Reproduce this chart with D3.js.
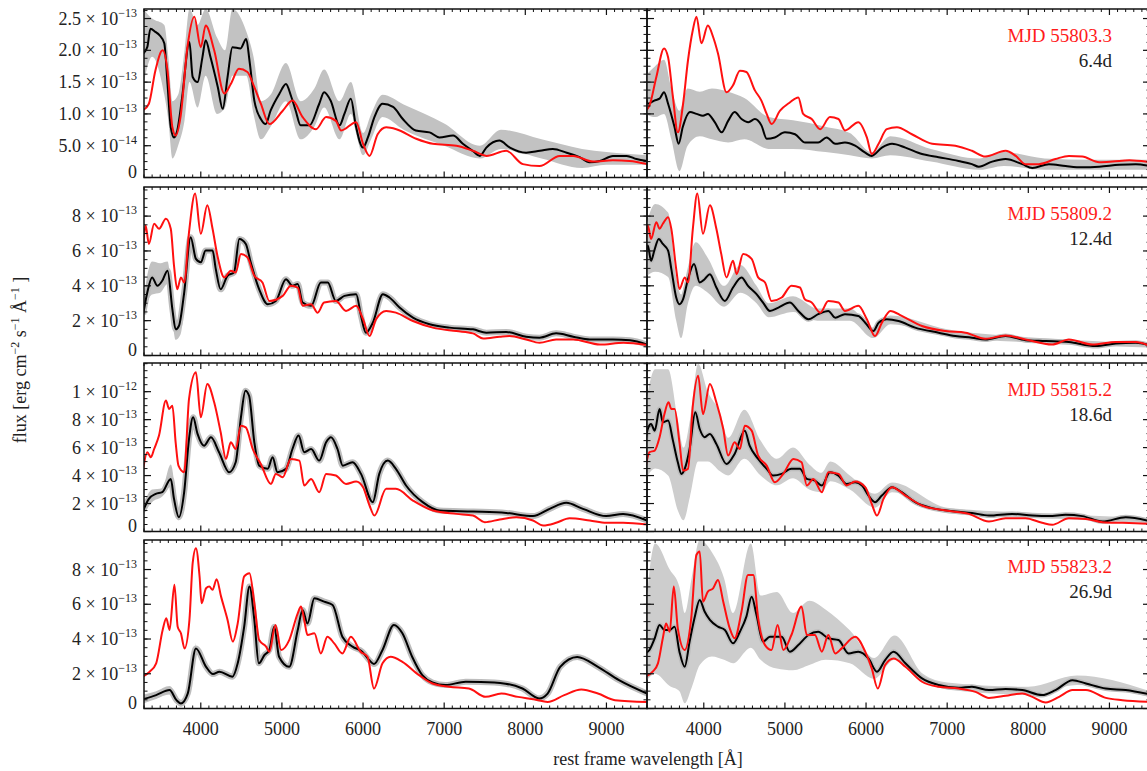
<!DOCTYPE html>
<html><head><meta charset="utf-8">
<script src="https://cdn.jsdelivr.net/npm/d3@7"></script>
<style>
body{margin:0;background:#fff;}
svg{display:block;font-family:"Liberation Serif","Times New Roman",serif;}
</style></head><body>
<svg id="chart" width="1147" height="771"></svg>
<script>
// ---------- DATA (flux in units of 1e-13 erg cm^-2 s^-1 A^-1, wavelength in A) ----------
const UNIT = 1e-13;
const xTicks = [4000, 5000, 6000, 7000, 8000, 9000];
const xTickLabels = ["4000", "5000", "6000", "7000", "8000", "9000"];
const mjdLabels = ["MJD 55803.3", "MJD 55809.2", "MJD 55815.2", "MJD 55823.2"];
const epochLabels = ["6.4d", "12.4d", "18.6d", "26.9d"];
const rowYMax = [2.65, 9.67, 12.05, 9.7];
const yTicksRow1 = [0, 0.5, 1.0, 1.5, 2.0, 2.5];
const yLabelsRow1 = [["0",""],["5.0","\u221214"],["1.0","\u221213"],["1.5","\u221213"],["2.0","\u221213"],["2.5","\u221213"]];
const yTicksRow2 = [0, 2, 4, 6, 8];
const yLabelsRow2 = [["0",""],["2","\u221213"],["4","\u221213"],["6","\u221213"],["8","\u221213"]];
const yTicksRow3 = [0, 2, 4, 6, 8, 10];
const yLabelsRow3 = [["0",""],["2","\u221213"],["4","\u221213"],["6","\u221213"],["8","\u221213"],["1","\u221212"]];
const yTicksRow4 = [0, 2, 4, 6, 8];
const yLabelsRow4 = [["0",""],["2","\u221213"],["4","\u221213"],["6","\u221213"],["8","\u221213"]];
const yMinorStep = [0.125, 0.5, 0.5, 0.5];

// Row 1, left
const blackA1 = [[3290,1.95],[3340,2.05],[3380,2.34],[3440,2.29],[3490,2.24],[3550,2.11],[3590,1.47],[3630,0.79],[3670,0.63],[3710,0.74],[3770,1.26],[3860,2.13],[3900,1.58],[3960,1.50],[4020,1.89],[4060,2.16],[4120,1.89],[4210,1.42],[4270,1.08],[4330,1.58],[4390,2.05],[4490,2.03],[4560,2.18],[4600,1.84],[4660,1.21],[4740,0.92],[4800,0.84],[4860,1.05],[4970,1.32],[5050,1.47],[5110,1.29],[5170,1.05],[5230,0.82],[5340,0.82],[5460,1.16],[5520,1.34],[5600,1.21],[5710,0.82],[5770,1.0],[5850,1.24],[5910,0.82],[6000,0.47],[6060,0.63],[6140,0.95],[6240,1.16],[6370,1.11],[6490,0.92],[6650,0.74],[6820,0.71],[6940,0.63],[7110,0.66],[7230,0.53],[7350,0.42],[7440,0.34],[7520,0.47],[7680,0.58],[7810,0.47],[8010,0.39],[8180,0.42],[8340,0.45],[8510,0.39],[8670,0.32],[8790,0.24],[8920,0.26],[9080,0.34],[9250,0.34],[9370,0.29],[9500,0.26]];
const redA1 = [[3290,1.06],[3360,1.16],[3440,1.68],[3530,2.0],[3590,1.68],[3650,0.79],[3690,0.66],[3750,0.95],[3835,2.05],[3920,2.53],[4000,2.05],[4060,2.39],[4165,2.0],[4290,1.32],[4370,1.47],[4470,1.71],[4575,1.66],[4660,1.42],[4740,1.16],[4845,0.84],[5010,1.05],[5130,1.21],[5255,0.95],[5420,0.76],[5545,0.95],[5665,0.89],[5730,0.74],[5915,0.87],[6000,0.53],[6080,0.34],[6180,0.68],[6285,0.79],[6410,0.76],[6655,0.61],[6860,0.53],[7150,0.5],[7355,0.42],[7520,0.34],[7765,0.42],[7970,0.21],[8175,0.18],[8425,0.34],[8590,0.34],[8835,0.25],[9080,0.27],[9285,0.26],[9500,0.21]];
const bandA1 = [[3290,1.45,2.65],[3400,1.9,2.5],[3550,1.3,2.4],[3600,0.9,1.9],[3650,0.3,1.2],[3720,0.5,1.3],[3800,0.9,2.0],[3860,1.5,2.65],[3960,1.1,2.4],[4060,1.6,2.65],[4200,1.0,2.2],[4300,1.1,2.0],[4390,1.6,2.65],[4560,1.6,2.3],[4650,1.0,1.9],[4740,0.6,1.2],[4860,0.8,1.3],[5050,1.2,1.8],[5230,0.6,1.2],[5400,0.8,1.4],[5520,1.1,1.7],[5710,0.6,1.2],[5850,1.0,1.5],[6000,0.35,0.7],[6100,0.6,1.0],[6240,0.95,1.3],[6500,0.75,1.15],[7000,0.5,0.85],[7440,0.3,0.5],[7700,0.45,0.75],[8200,0.3,0.6],[8700,0.15,0.45],[9000,0.2,0.4],[9500,0.2,0.35]];

// Row 1, right
const blackB1 = [[3280,1.37],[3310,1.16],[3390,1.21],[3455,1.24],[3510,1.34],[3560,1.16],[3640,0.79],[3690,0.53],[3740,0.79],[3830,1.03],[3910,1.0],[3990,0.97],[4050,1.0],[4135,0.87],[4220,0.71],[4300,0.89],[4380,1.03],[4465,0.92],[4550,0.87],[4630,0.92],[4710,0.82],[4775,0.61],[4875,0.63],[5000,0.71],[5125,0.68],[5250,0.55],[5410,0.55],[5515,0.63],[5620,0.53],[5740,0.55],[5865,0.5],[5990,0.39],[6070,0.34],[6195,0.47],[6320,0.53],[6485,0.47],[6690,0.37],[6895,0.32],[7140,0.26],[7305,0.21],[7390,0.17],[7555,0.25],[7720,0.29],[7925,0.21],[8050,0.15],[8255,0.21],[8460,0.18],[8665,0.16],[8875,0.17],[9120,0.2],[9325,0.21],[9500,0.18]];
const redB1 = [[3280,1.05],[3330,1.13],[3415,1.58],[3510,2.03],[3560,1.89],[3620,1.26],[3680,0.71],[3745,1.16],[3805,1.84],[3865,2.32],[3910,2.53],[3970,2.11],[4050,2.39],[4115,2.21],[4175,1.95],[4280,1.34],[4360,1.45],[4445,1.68],[4525,1.66],[4630,1.37],[4710,1.21],[4775,1.0],[4835,0.84],[4940,1.05],[5060,1.18],[5165,1.26],[5225,1.0],[5330,0.92],[5435,0.76],[5555,0.95],[5660,0.92],[5740,0.74],[5905,0.87],[6010,0.63],[6070,0.37],[6155,0.53],[6255,0.76],[6380,0.79],[6565,0.68],[6815,0.53],[7100,0.5],[7305,0.42],[7470,0.33],[7720,0.42],[7845,0.34],[7965,0.21],[8130,0.21],[8335,0.29],[8500,0.34],[8665,0.33],[8875,0.24],[9040,0.25],[9245,0.27],[9500,0.24]];
const bandB1 = [[3280,1.0,1.6],[3400,0.95,1.75],[3510,1.0,1.85],[3600,0.6,1.4],[3700,0.1,1.05],[3800,0.5,1.4],[3950,0.65,1.35],[4100,0.6,1.4],[4300,0.55,1.35],[4500,0.6,1.25],[4800,0.45,0.95],[5100,0.45,0.9],[5500,0.4,0.8],[5800,0.35,0.7],[6070,0.3,0.4],[6300,0.35,0.65],[6800,0.25,0.45],[7400,0.12,0.3],[7700,0.18,0.4],[8200,0.12,0.3],[8800,0.12,0.28],[9500,0.12,0.28]];

// Row 2, left
const blackA2 = [[3290,2.37],[3340,3.6],[3400,4.48],[3465,4.0],[3525,4.29],[3590,4.87],[3650,2.65],[3690,1.5],[3730,1.69],[3795,3.6],[3875,6.79],[3940,5.54],[4000,5.35],[4060,6.02],[4145,6.02],[4185,4.96],[4245,3.8],[4330,4.58],[4410,4.77],[4475,6.69],[4555,6.4],[4615,5.35],[4720,3.8],[4825,2.94],[4925,3.13],[5050,4.38],[5130,4.0],[5195,4.1],[5255,3.04],[5360,2.85],[5480,4.19],[5565,4.19],[5665,3.13],[5770,3.42],[5915,3.52],[5975,2.27],[6035,1.31],[6120,1.88],[6245,3.52],[6325,3.33],[6450,2.75],[6615,2.17],[6820,1.79],[7065,1.6],[7355,1.5],[7520,1.31],[7765,1.35],[8010,1.08],[8175,1.02],[8380,1.27],[8590,1.08],[8795,0.92],[9080,0.92],[9290,0.87],[9500,0.63]];
const redA2 = [[3290,6.31],[3320,7.46],[3360,6.4],[3425,7.56],[3485,7.27],[3570,7.85],[3630,7.27],[3670,5.15],[3710,3.8],[3755,4.48],[3795,4.19],[3855,7.08],[3930,9.29],[4000,6.98],[4080,8.62],[4145,7.27],[4205,5.73],[4290,4.48],[4370,4.87],[4430,4.77],[4495,5.83],[4575,5.63],[4660,4.58],[4760,4.19],[4845,3.13],[5010,3.42],[5110,4.0],[5195,3.9],[5255,2.85],[5360,2.94],[5440,2.46],[5520,3.04],[5665,3.13],[5790,2.56],[5915,2.85],[6000,2.08],[6080,1.12],[6160,2.08],[6285,2.56],[6405,2.46],[6615,1.98],[6860,1.6],[7150,1.4],[7355,1.27],[7480,0.98],[7685,1.08],[7805,1.12],[8010,0.92],[8175,0.73],[8380,0.92],[8590,0.92],[8920,0.63],[9210,0.73],[9500,0.6]];
const bandA2 = [[3290,1.9,2.9],[3340,3.0,4.6],[3400,3.5,5.4],[3500,3.6,5.3],[3590,4.1,5.4],[3650,2.0,3.3],[3690,0.9,2.0],[3750,1.2,2.4],[3800,3.0,4.0]];

// Row 2, right
const blackB2 = [[3280,5.54],[3310,6.31],[3350,5.44],[3390,6.02],[3445,6.69],[3495,6.4],[3560,6.02],[3600,4.96],[3660,3.33],[3700,2.94],[3745,3.23],[3805,4.38],[3880,5.25],[3950,4.19],[4010,4.38],[4075,4.67],[4155,3.9],[4260,3.13],[4360,3.9],[4465,4.48],[4545,4.0],[4650,3.52],[4730,3.04],[4815,2.56],[4920,2.75],[5060,3.04],[5165,2.56],[5290,2.08],[5410,2.37],[5535,2.56],[5620,2.17],[5740,2.37],[5905,2.27],[5990,1.88],[6090,1.4],[6155,1.88],[6255,2.08],[6400,1.98],[6605,1.6],[6895,1.31],[7100,1.12],[7305,1.02],[7470,0.92],[7720,1.12],[7965,0.88],[8215,0.83],[8500,0.77],[8830,0.54],[9080,0.69],[9325,0.73],[9500,0.58]];
const redB2 = [[3280,6.31],[3310,7.46],[3350,6.69],[3415,7.65],[3455,7.27],[3495,7.56],[3560,7.94],[3600,7.27],[3660,4.96],[3700,3.81],[3765,4.48],[3805,4.19],[3865,7.27],[3920,9.29],[3990,6.98],[4075,8.62],[4155,7.27],[4215,5.83],[4280,4.48],[4360,5.44],[4405,4.67],[4485,5.83],[4590,5.54],[4670,4.48],[4755,4.19],[4835,3.13],[4960,3.33],[5080,4.0],[5185,3.9],[5245,3.23],[5330,3.04],[5435,2.46],[5535,3.13],[5660,3.04],[5740,2.56],[5905,2.85],[6010,2.08],[6110,1.12],[6195,1.88],[6300,2.56],[6440,2.27],[6690,1.69],[6980,1.4],[7225,1.31],[7470,0.96],[7720,1.15],[7965,0.92],[8295,0.63],[8500,0.92],[8790,0.63],[9080,0.77],[9325,0.77],[9500,0.54]];
const bandB2 = [[3280,4.5,7.3],[3400,4.8,8.7],[3560,4.5,8.2],[3660,2.0,4.5],[3720,1.0,3.5],[3800,2.9,5.0],[3900,4.0,6.5],[4050,3.6,5.6],[4250,2.8,4.0],[4450,3.6,5.2],[4650,3.0,4.0],[4800,2.2,3.0],[5100,2.5,3.4],[5400,2.0,2.7],[5800,2.0,2.7],[6090,1.0,1.6],[6300,1.8,2.3],[7000,1.1,1.5],[8000,0.75,1.05],[9500,0.45,0.7]];

// Row 3, left
const blackA3 = [[3290,1.5],[3360,2.33],[3445,2.69],[3525,2.81],[3630,3.76],[3670,2.33],[3730,1.02],[3795,2.81],[3855,6.62],[3905,8.17],[3960,6.98],[4040,6.14],[4125,6.74],[4225,5.67],[4350,4.24],[4430,4.95],[4495,8.17],[4550,10.07],[4595,9.71],[4660,6.38],[4720,4.71],[4825,4.48],[4885,5.31],[4945,4.24],[5050,4.48],[5130,5.9],[5205,6.86],[5275,5.67],[5360,5.9],[5460,5.07],[5545,6.38],[5605,6.74],[5685,5.9],[5750,4.71],[5870,4.95],[5975,4.12],[6120,2.1],[6200,4.12],[6305,5.07],[6405,4.48],[6530,3.29],[6735,2.1],[6940,1.5],[7355,1.43],[7765,1.33],[8095,1.1],[8300,1.62],[8505,2.05],[8710,1.62],[8995,1.1],[9205,1.26],[9500,0.79]];
const redA3 = [[3290,4.48],[3340,5.67],[3385,5.31],[3425,5.9],[3485,6.86],[3570,9.36],[3610,8.76],[3650,9.0],[3690,6.38],[3725,4.71],[3795,4.24],[3855,9.48],[3940,11.38],[4000,8.17],[4080,10.55],[4165,9.24],[4245,7.1],[4310,5.19],[4370,6.38],[4430,5.9],[4495,7.57],[4555,7.45],[4640,5.9],[4740,4.83],[4865,3.4],[4925,4.12],[5010,3.88],[5110,5.19],[5215,5.07],[5275,3.29],[5360,3.76],[5460,2.81],[5545,4.12],[5665,4.0],[5790,3.4],[5915,3.57],[6000,3.17],[6080,1.86],[6140,1.14],[6285,3.05],[6405,3.05],[6615,2.21],[6860,1.5],[7150,1.26],[7355,1.14],[7500,0.67],[7685,0.86],[7890,1.02],[8095,0.79],[8220,0.43],[8380,0.62],[8545,0.95],[8795,0.79],[9000,0.62],[9205,0.62],[9500,0.5]];
const bandA3 = [[3290,1.2,1.9],[3400,2.1,3.0],[3525,2.5,3.1],[3630,3.2,4.8],[3690,1.6,2.8],[3730,0.8,1.4],[3800,2.5,3.3]];

// Row 3, right
const blackB3 = [[3280,6.38],[3310,7.33],[3350,7.69],[3395,7.21],[3455,8.76],[3495,7.81],[3560,7.93],[3620,6.5],[3680,4.95],[3725,4.12],[3765,4.48],[3825,5.9],[3895,8.52],[3950,7.33],[4010,6.74],[4075,6.98],[4155,6.26],[4280,4.83],[4380,5.55],[4505,7.21],[4565,6.14],[4670,5.19],[4775,4.48],[4855,4.0],[4960,4.12],[5080,4.48],[5185,4.48],[5270,3.76],[5370,3.64],[5455,3.29],[5555,4.24],[5660,4.0],[5760,3.4],[5865,3.52],[5950,3.29],[6030,2.57],[6110,2.1],[6195,2.57],[6320,3.17],[6440,2.81],[6605,2.1],[6815,1.67],[7100,1.43],[7305,1.33],[7515,1.14],[7800,1.26],[8050,1.14],[8255,1.1],[8460,1.19],[8665,1.1],[8915,0.71],[9200,1.02],[9500,0.74]];
const redB3 = [[3280,4.48],[3330,5.67],[3395,5.79],[3455,6.74],[3515,8.4],[3565,9.24],[3600,8.76],[3640,8.76],[3700,6.38],[3745,4.36],[3805,4.48],[3865,9.0],[3930,11.14],[3990,8.4],[4075,10.55],[4155,9.24],[4240,7.33],[4300,5.43],[4380,6.38],[4445,5.9],[4505,7.57],[4590,7.21],[4670,5.43],[4775,4.71],[4875,3.52],[4980,4.12],[5105,5.19],[5205,4.95],[5270,3.29],[5350,3.76],[5455,2.81],[5535,4.24],[5660,4.12],[5760,3.29],[5865,3.57],[5990,3.17],[6070,1.98],[6135,1.14],[6215,2.33],[6320,3.17],[6485,2.57],[6690,1.86],[6980,1.5],[7265,1.26],[7515,0.71],[7720,0.95],[7965,0.95],[8170,0.62],[8295,0.48],[8500,0.95],[8710,0.9],[8915,0.67],[9160,0.62],[9500,0.55]];
const bandB3 = [[3280,3.7,9.0],[3400,4.5,11.6],[3560,4.0,11.6],[3680,1.5,8.0],[3750,0.8,6.0],[3830,2.5,8.0],[3930,5.0,12.0],[4050,5.0,10.0],[4200,4.3,8.5],[4300,4.0,6.7],[4500,5.2,8.7],[4700,4.0,6.5],[4900,3.3,5.2],[5100,3.8,6.0],[5300,3.0,4.8],[5450,2.8,4.2],[5560,3.6,5.0],[5800,3.0,4.0],[6110,1.7,2.7],[6320,2.8,3.5],[7000,1.3,1.7],[8000,1.0,1.35],[9500,0.6,0.95]];

// Row 4, left
const blackA4 = [[3295,0.54],[3450,0.77],[3615,1.06],[3700,0.48],[3755,0.29],[3840,0.87],[3940,3.46],[4065,2.4],[4150,1.98],[4230,2.12],[4390,1.83],[4455,2.6],[4535,4.71],[4600,7.02],[4660,5.1],[4715,2.6],[4785,3.08],[4845,3.37],[4905,4.71],[4965,2.98],[5090,2.4],[5195,4.52],[5255,5.67],[5315,4.9],[5400,6.35],[5520,6.15],[5625,5.96],[5745,4.13],[5870,3.56],[5990,3.27],[6075,2.79],[6135,2.56],[6240,3.37],[6380,4.81],[6485,4.33],[6605,2.98],[6730,1.92],[6855,1.5],[7015,1.35],[7265,1.54],[7450,1.53],[7755,1.43],[7965,1.15],[8170,0.58],[8275,0.86],[8430,2.4],[8640,2.97],[8895,2.4],[9155,1.63],[9500,0.86]];
const redA4 = [[3295,1.87],[3370,2.12],[3450,2.6],[3530,4.52],[3575,5.19],[3615,4.52],[3675,7.12],[3715,4.71],[3755,4.33],[3800,3.46],[3860,5.1],[3900,8.37],[3940,9.23],[3985,7.6],[4010,6.06],[4065,6.92],[4105,7.02],[4145,6.83],[4195,7.44],[4250,6.44],[4330,5.1],[4395,3.85],[4455,4.9],[4535,7.6],[4600,7.79],[4660,6.06],[4720,3.94],[4805,3.56],[4845,3.27],[4920,4.81],[4990,3.37],[5090,3.94],[5195,5.48],[5235,5.87],[5275,5.1],[5315,4.23],[5400,4.33],[5480,3.17],[5560,4.13],[5645,3.75],[5745,3.17],[5850,4.13],[5970,3.27],[6055,2.98],[6135,1.15],[6240,2.6],[6340,2.98],[6485,2.69],[6690,1.92],[6855,1.44],[7060,1.25],[7305,1.15],[7510,0.67],[7705,0.86],[7910,0.67],[8120,0.52],[8275,0.38],[8480,0.77],[8690,1.09],[8895,0.86],[9105,0.48],[9500,0.38]];
const bandA4 = [[3295,0.3,0.8],[3450,0.55,1.0],[3615,0.8,1.3],[3755,0.1,0.5],[3840,0.6,1.1],[3940,3.1,3.8]];

// Row 4, right
const blackB4 = [[3280,3.17],[3330,3.37],[3395,4.04],[3455,4.81],[3515,4.52],[3580,4.52],[3640,4.71],[3700,3.27],[3765,2.4],[3825,3.85],[3885,5.19],[3950,6.25],[4010,5.58],[4075,5.1],[4175,4.71],[4260,4.52],[4360,3.75],[4445,4.42],[4525,5.29],[4590,6.44],[4650,5.38],[4730,3.85],[4815,4.13],[4960,4.13],[5060,3.27],[5165,3.65],[5290,4.23],[5410,4.42],[5535,4.04],[5660,3.94],[5785,3.17],[5905,3.27],[6030,2.88],[6135,2.12],[6235,2.79],[6340,3.27],[6485,2.6],[6690,1.73],[6895,1.35],[7140,1.19],[7305,1.25],[7515,1.06],[7720,1.12],[7925,1.06],[8170,0.77],[8335,1.06],[8545,1.63],[8710,1.44],[8955,1.15],[9200,1.06],[9500,0.81]];
const redB4 = [[3280,1.83],[3370,2.12],[3435,2.6],[3495,4.04],[3535,4.9],[3580,4.42],[3630,7.02],[3680,4.61],[3765,3.37],[3845,5.19],[3910,8.85],[3950,9.04],[3990,6.15],[4050,6.73],[4115,6.92],[4175,7.4],[4240,6.15],[4320,4.61],[4380,4.04],[4465,5.58],[4545,7.69],[4610,7.69],[4670,5.19],[4755,3.65],[4835,3.37],[4910,4.81],[4980,3.37],[5080,4.23],[5205,5.87],[5270,4.23],[5370,4.23],[5455,3.27],[5535,4.23],[5620,3.17],[5700,3.46],[5865,4.13],[5990,3.27],[6070,2.31],[6145,1.15],[6235,2.5],[6340,2.88],[6485,2.4],[6690,1.54],[6895,1.25],[7140,1.15],[7350,0.96],[7515,0.61],[7720,0.73],[7925,0.87],[8050,0.67],[8215,0.35],[8380,0.67],[8545,1.06],[8710,1.06],[8955,0.61],[9160,0.48],[9500,0.38]];
const bandB4 = [[3280,1.5,5.5],[3400,2.0,9.5],[3580,1.3,8.0],[3700,1.0,7.0],[3765,0.3,5.5],[3850,1.2,7.5],[3950,2.5,9.7],[4100,3.0,9.0],[4250,2.8,7.5],[4360,2.6,5.5],[4580,3.5,9.5],[4700,2.8,6.5],[4900,2.3,6.7],[5100,2.2,5.5],[5300,2.5,6.2],[5500,2.8,5.7],[5800,2.6,4.5],[6100,1.7,2.9],[6350,2.8,4.2],[6700,1.6,2.0],[7000,1.1,1.5],[8000,0.8,1.25],[8600,1.35,1.9],[9500,0.65,1.0]];

// ---------- LAYOUT ----------
const xDomain = [3300, 9500];
const colLeft = [144, 647];
const panelW = 503;
const rowTop = [9, 187, 363, 540];
const panelH = 168.5;

const rowTicks = [yTicksRow1, yTicksRow2, yTicksRow3, yTicksRow4];
const rowLabels = [yLabelsRow1, yLabelsRow2, yLabelsRow3, yLabelsRow4];
const panels = [
  [{black: blackA1, red: redA1, band: bandA1, halo: 3, bandFill: "#c2c2c2"}, {black: blackB1, red: redB1, band: bandB1, halo: 3, bandFill: "#c2c2c2"}],
  [{black: blackA2, red: redA2, band: bandA2, halo: 6, bandFill: "#c2c2c2"}, {black: blackB2, red: redB2, band: bandB2, halo: 5, bandFill: "#c6c6c6"}],
  [{black: blackA3, red: redA3, band: bandA3, halo: 6, bandFill: "#c2c2c2"}, {black: blackB3, red: redB3, band: bandB3, halo: 5, bandFill: "#cdcdcd"}],
  [{black: blackA4, red: redA4, band: bandA4, halo: 6, bandFill: "#c2c2c2"}, {black: blackB4, red: redB4, band: bandB4, halo: 5, bandFill: "#cdcdcd"}]
];

const svg = d3.select("#chart");
const defs = svg.append("defs");
const TXT = "#222";

rowTop.forEach((top, ri) => {
  const y = d3.scaleLinear().domain([0, rowYMax[ri] * UNIT]).range([top + panelH, top]);
  colLeft.forEach((left, ci) => {
    const x = d3.scaleLinear().domain(xDomain).range([left, left + panelW]);
    const p = panels[ri][ci];
    const id = "clip" + ri + ci;
    defs.append("clipPath").attr("id", id).append("rect")
      .attr("x", left).attr("y", top).attr("width", panelW).attr("height", panelH);
    const g = svg.append("g").attr("clip-path", "url(#" + id + ")");

    if (p.band.length) {
      const area = d3.area().curve(d3.curveMonotoneX).x(d => x(d[0])).y0(d => y(d[1] * UNIT)).y1(d => y(d[2] * UNIT));
      g.append("path").datum(p.band).attr("d", area).attr("fill", p.bandFill).attr("stroke", "none");
    }
    const line = d3.line().curve(d3.curveMonotoneX).x(d => x(d[0])).y(d => y(d[1] * UNIT));
    g.append("path").datum(p.black).attr("d", line).attr("fill", "none")
      .attr("stroke", "#bdbdbd").attr("stroke-width", p.halo).attr("stroke-linejoin", "round");
    g.append("path").datum(p.black).attr("d", line).attr("fill", "none")
      .attr("stroke", "#000").attr("stroke-width", 2).attr("stroke-linejoin", "round");
    g.append("path").datum(p.red).attr("d", line).attr("fill", "none")
      .attr("stroke", "#ff1010").attr("stroke-width", 2).attr("stroke-linejoin", "round");

    // frame
    const a = svg.append("g");
    a.append("rect").attr("x", left).attr("y", top).attr("width", panelW).attr("height", panelH)
      .attr("fill", "none").attr("stroke", "#111").attr("stroke-width", 1.5);

    // x ticks (bottom & top, inward)
    const xMinor = d3.range(3300, 9501, 100).filter(v => v % 1000 !== 0);
    xMinor.forEach(v => {
      a.append("line").attr("x1", x(v)).attr("x2", x(v)).attr("y1", top + panelH).attr("y2", top + panelH - 3).attr("stroke", "#111").attr("stroke-width", 1);
      a.append("line").attr("x1", x(v)).attr("x2", x(v)).attr("y1", top).attr("y2", top + 3).attr("stroke", "#111").attr("stroke-width", 1);
    });
    xTicks.forEach(v => {
      a.append("line").attr("x1", x(v)).attr("x2", x(v)).attr("y1", top + panelH).attr("y2", top + panelH - 6).attr("stroke", "#111").attr("stroke-width", 1.2);
      a.append("line").attr("x1", x(v)).attr("x2", x(v)).attr("y1", top).attr("y2", top + 6).attr("stroke", "#111").attr("stroke-width", 1.2);
    });

    // y ticks (left & right, inward)
    const yMinor = d3.range(0, rowYMax[ri] + 1e-9, yMinorStep[ri]);
    yMinor.forEach(v => {
      const yy = y(v * UNIT);
      a.append("line").attr("x1", left).attr("x2", left + 3.5).attr("y1", yy).attr("y2", yy).attr("stroke", "#111").attr("stroke-width", 1);
      a.append("line").attr("x1", left + panelW).attr("x2", left + panelW - 3.5).attr("y1", yy).attr("y2", yy).attr("stroke", "#111").attr("stroke-width", 1);
    });
    rowTicks[ri].forEach(v => {
      const yy = y(v * UNIT);
      a.append("line").attr("x1", left).attr("x2", left + 7).attr("y1", yy).attr("y2", yy).attr("stroke", "#111").attr("stroke-width", 1.2);
      a.append("line").attr("x1", left + panelW).attr("x2", left + panelW - 7).attr("y1", yy).attr("y2", yy).attr("stroke", "#111").attr("stroke-width", 1.2);
    });

    // y tick labels on left column only
    if (ci === 0) {
      rowTicks[ri].forEach((v, k) => {
        const yy = y(v * UNIT);
        const lab = rowLabels[ri][k];
        const t = svg.append("text").attr("x", left - 7).attr("text-anchor", "end")
          .attr("font-size", 18).attr("fill", TXT);
        if (lab[1] === "") {
          t.attr("y", yy + 0.5).text(lab[0]);
        } else {
          t.attr("y", yy + 6);
          t.append("tspan").text(lab[0] + " \u00d7 10");
          t.append("tspan").attr("dy", -8).attr("font-size", 12).text(lab[1]);
        }
      });
    }
    // x tick labels on bottom row only
    if (ri === 3) {
      xTicks.forEach((v, k) => {
        svg.append("text").attr("x", x(v)).attr("y", 735).attr("text-anchor", "middle")
          .attr("font-size", 18).attr("fill", TXT).text(xTickLabels[k]);
      });
    }
    // labels in right panels
    if (ci === 1) {
      svg.append("text").attr("x", 1112).attr("y", top + 33).attr("text-anchor", "end")
        .attr("font-size", 19).attr("fill", "#ff1a1a").text(mjdLabels[ri]);
      svg.append("text").attr("x", 1112).attr("y", top + 58).attr("text-anchor", "end")
        .attr("font-size", 19).attr("fill", TXT).text(epochLabels[ri]);
    }
  });
});

// axis titles
const yt = svg.append("text").attr("transform", "translate(26,360) rotate(-90)")
  .attr("text-anchor", "middle").attr("font-size", 18).attr("fill", TXT);
yt.append("tspan").text("flux [erg cm");
yt.append("tspan").attr("dy", -7).attr("font-size", 12).text("\u22122");
yt.append("tspan").attr("dy", 7).text(" s");
yt.append("tspan").attr("dy", -7).attr("font-size", 12).text("\u22121");
yt.append("tspan").attr("dy", 7).text(" \u00c5");
yt.append("tspan").attr("dy", -7).attr("font-size", 12).text("\u22121");
yt.append("tspan").attr("dy", 7).text(" ]");

svg.append("text").attr("x", 648).attr("y", 765).attr("text-anchor", "middle")
  .attr("font-size", 18).attr("fill", TXT).text("rest frame wavelength [\u00c5]");
</script>
</body></html>
